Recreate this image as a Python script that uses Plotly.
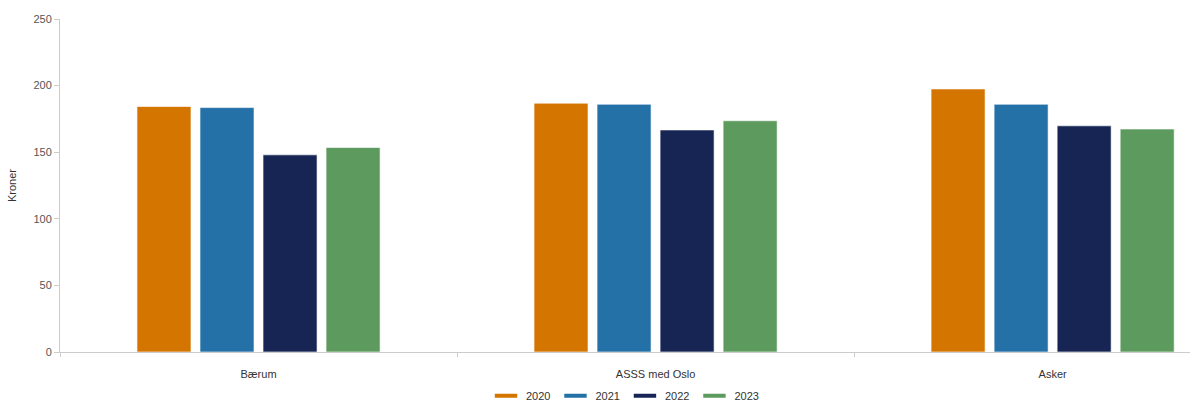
import plotly.graph_objects as go

# Kroner per category and year
categories = ["Bærum", "ASSS med Oslo", "Asker"]
years = ["2020", "2021", "2022", "2023"]
values_2020 = [184.3, 186.8, 197.5]
values_2021 = [183.5, 186.0, 186.0]
values_2022 = [148.0, 166.7, 169.8]
values_2023 = [153.5, 173.6, 167.4]
colors = ["#d47500", "#2471a8", "#172554", "#5c9a5e"]

series = [values_2020, values_2021, values_2022, values_2023]

fig = go.Figure()
for year, vals, col in zip(years, series, colors):
    fig.add_trace(go.Bar(
        x=categories, y=vals, name=year, showlegend=False,
        marker=dict(color=col, line=dict(color="rgba(255,255,255,0.6)", width=1)),
    ))
# Legend entries drawn as short dash keys
for year, col in zip(years, colors):
    fig.add_trace(go.Scatter(
        x=[None], y=[None], mode="markers", name=year,
        marker=dict(symbol="line-ew", size=16, color=col,
                    line=dict(color=col, width=4)),
    ))

axis_font = dict(family="Liberation Sans, Arial, sans-serif", size=11, color="#555")
fig.update_layout(
    width=1192, height=403,
    margin=dict(l=60, r=2, t=19, b=51, autoexpand=False),
    paper_bgcolor="white", plot_bgcolor="white",
    barmode="group", bargap=0.365, bargroupgap=0.143,
    font=axis_font,
    legend=dict(orientation="h", x=0.5, xanchor="center",
                yref="container", y=0.018, yanchor="middle",
                font=dict(size=11, color="#333"), itemwidth=30, tracegroupgap=0),
    xaxis=dict(range=[-0.5, 2.346], showline=True, linecolor="#ccc", linewidth=1,
               ticks="outside", tickson="boundaries", ticklen=4, tickcolor="#ccc",
               ticklabelstandoff=12,
               tickfont=dict(size=11, color="#333"), showgrid=False),
    yaxis=dict(range=[0, 250], dtick=50, showline=True, linecolor="#ccc",
               linewidth=1, ticks="outside", ticklen=5, tickcolor="#ccc",
               showgrid=False, zeroline=False,
               tickfont=dict(size=11, color="#555"),
               title=dict(text="Kroner", font=dict(size=11, color="#333"), standoff=14)),
)

fig.write_html("out.html")
